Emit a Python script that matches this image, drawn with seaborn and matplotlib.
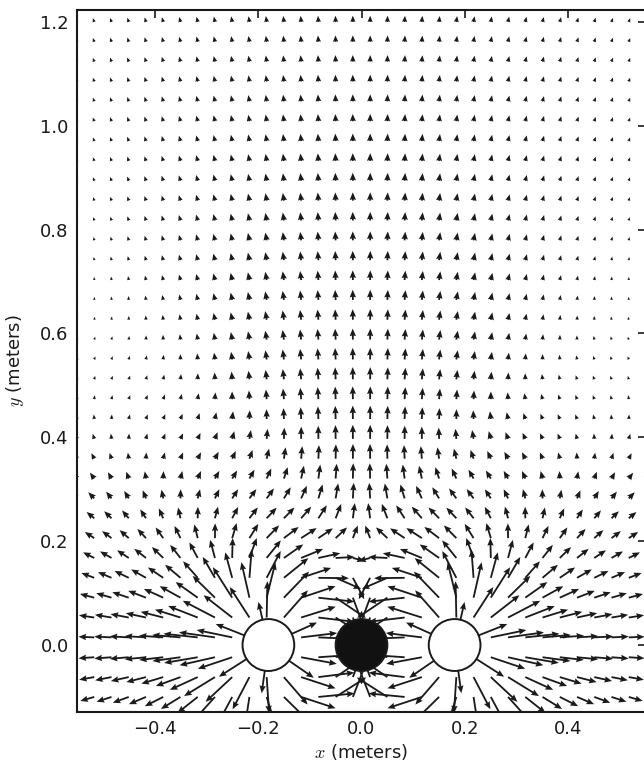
import numpy as np
import matplotlib
matplotlib.use('Agg')
import matplotlib.pyplot as plt
import seaborn as sns

sns.set_theme(style='white')
plt.rcParams['font.family'] = ['DejaVu Sans']
plt.rcParams['mathtext.fontset'] = 'cm'

# sources on the x axis: two emitters (white) and one absorber (black)
src_x = [-0.18, 0.0, 0.18]
src_y = [0.0, 0.0, 0.0]
src_r = [0.05, 0.05, 0.05]
src_color = ['white', '#111111', 'white']
wavenumber = 7.0
sink_strength = 1.7

# sampling grid of the arrows
grid_x = np.linspace(-0.55, 0.55, 34)
grid_y = np.linspace(-0.1, 1.2, 35)

X, Y = np.meshgrid(grid_x, grid_y)
kd = wavenumber * (src_x[2] - src_x[1])
amps = [1.0, -sink_strength * np.sin(kd) / kd, 1.0]

p = np.zeros(X.shape, complex)
px = np.zeros(X.shape, complex)
py = np.zeros(X.shape, complex)
for sx, sy, a in zip(src_x, src_y, amps):
    dx = X - sx
    dy = Y - sy
    r = np.hypot(dx, dy)
    g = np.exp(1j * wavenumber * r) / r
    dg = g * (1j * wavenumber - 1 / r)
    p += a * g
    px += a * dg * dx / r
    py += a * dg * dy / r
Ix = np.imag(np.conj(p) * px)
Iy = np.imag(np.conj(p) * py)

# compress arrow length so the far field stays visible
mag = np.hypot(Ix, Iy)
top = mag[-1, 16:18].mean()
L = np.minimum(0.012 * (mag / top) ** 0.45, 0.07)
U = Ix / mag * L
V = Iy / mag * L

fig = plt.figure(figsize=(6.44, 7.67), dpi=100)
ax = fig.add_axes([77 / 644, 55 / 767, 569 / 644, 702 / 767])
ax.quiver(X, Y, U, V, pivot='tail', angles='xy', scale_units='xy', scale=1,
          width=0.0032, headwidth=3.5, headlength=4.2, headaxislength=3.8,
          color='#1a1a1a')
for sx, sy, sr, col in zip(src_x, src_y, src_r, src_color):
    ax.add_patch(plt.Circle((sx, sy), sr, fc=col, ec='#1a1a1a', lw=1.4, zorder=5))

ax.set_xlim(-0.55, 0.55)
ax.set_ylim(-0.129, 1.223)
ax.set_xticks([-0.4, -0.2, 0.0, 0.2, 0.4])
ax.set_yticks([0.0, 0.2, 0.4, 0.6, 0.8, 1.0, 1.2])
ax.tick_params(direction='in', length=5.5, width=1.2, top=True, right=True,
               labelsize=13, colors='#1a1a1a', pad=6)
for sp in ax.spines.values():
    sp.set_linewidth(1.5)
    sp.set_color('#1a1a1a')
ax.set_xlabel('$x$ (meters)', fontsize=13, color='#1a1a1a', labelpad=3)
ax.set_ylabel('$y$ (meters)', fontsize=13, color='#1a1a1a', labelpad=10)

fig.savefig('out.png', dpi=100)
